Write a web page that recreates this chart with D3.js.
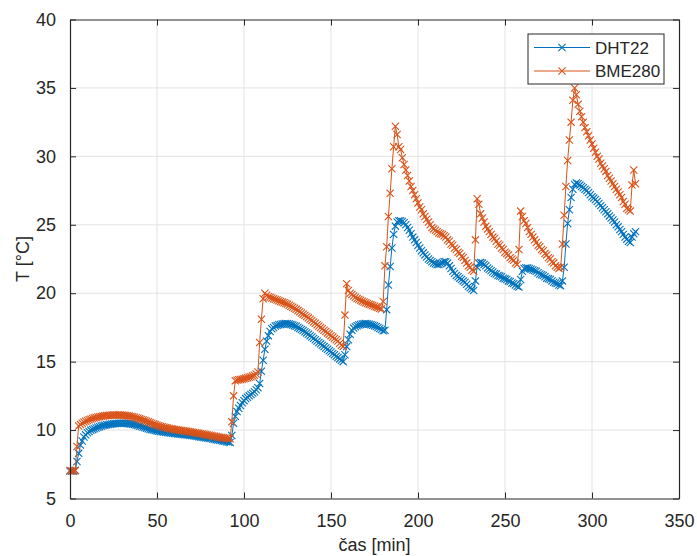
<!DOCTYPE html>
<html>
<head>
<meta charset="utf-8">
<script src="https://cdn.jsdelivr.net/npm/d3@7"></script>
<style>
  html, body { margin: 0; padding: 0; background: #ffffff; }
  svg { display: block; }
  text { font-family: "Liberation Sans", Arial, Helvetica, sans-serif; fill: #262626; }
</style>
</head>
<body>
<svg id="chart" width="697" height="556"></svg>
<script>
// ---- data (time in minutes = sample index, 1 sample per minute) ----
const seriesNames = ["DHT22", "BME280"];
const seriesColors = ["#0072BD", "#D95319"];

const dht22 = [
  7.0, 7.0, 7.0, 7.05, 7.7, 8.3, 8.9, 9.2, 9.5, 9.65,
  9.8, 9.9, 9.98, 10.05, 10.1, 10.15, 10.2, 10.25, 10.3, 10.33,
  10.36, 10.39, 10.41, 10.43, 10.45, 10.47, 10.48, 10.49, 10.5, 10.5,
  10.5, 10.5, 10.49, 10.48, 10.47, 10.45, 10.43, 10.4, 10.37, 10.33,
  10.3, 10.26, 10.22, 10.18, 10.14, 10.1, 10.06, 10.03, 10.0, 9.97,
  9.94, 9.92, 9.9, 9.88, 9.86, 9.84, 9.82, 9.8, 9.79, 9.77,
  9.75, 9.74, 9.72, 9.71, 9.69, 9.68, 9.66, 9.65, 9.63, 9.62,
  9.6, 9.58, 9.56, 9.54, 9.52, 9.5, 9.48, 9.46, 9.44, 9.42,
  9.4, 9.38, 9.35, 9.33, 9.3, 9.28, 9.25, 9.23, 9.2, 9.18,
  9.15, 9.13, 9.1, 9.6, 10.5, 11.0, 11.35, 11.6, 11.8, 12.0,
  12.15, 12.3, 12.4, 12.5, 12.6, 12.7, 12.8, 12.95, 13.1, 13.4,
  14.3, 15.1, 15.9, 16.5, 16.9, 17.2, 17.4, 17.5, 17.6, 17.65,
  17.7, 17.72, 17.75, 17.77, 17.78, 17.77, 17.75, 17.72, 17.68, 17.63,
  17.58, 17.5, 17.43, 17.35, 17.27, 17.18, 17.1, 17.0, 16.9, 16.8,
  16.7, 16.6, 16.5, 16.4, 16.3, 16.2, 16.1, 16.0, 15.9, 15.8,
  15.7, 15.6, 15.5, 15.4, 15.3, 15.2, 15.1, 15.0, 15.5, 16.1,
  16.6, 17.0, 17.3, 17.45, 17.55, 17.62, 17.68, 17.72, 17.75, 17.77,
  17.78, 17.76, 17.73, 17.7, 17.66, 17.62, 17.56, 17.5, 17.42, 17.34,
  17.25, 17.3, 18.8, 20.6, 21.95, 23.3, 24.3, 24.9, 25.2, 25.3,
  25.3, 25.25, 25.15, 25.0, 24.8, 24.6, 24.35, 24.1, 23.9, 23.7,
  23.5, 23.3, 23.1, 22.95, 22.8, 22.65, 22.5, 22.4, 22.3, 22.2,
  22.15, 22.1, 22.1, 22.15, 22.25, 22.3, 22.3, 22.2, 22.0, 21.8,
  21.6, 21.45, 21.3, 21.2, 21.1, 21.0, 20.9, 20.8, 20.65, 20.5,
  20.4, 20.3, 20.2, 20.9, 21.9, 22.2, 22.25, 22.2, 22.1, 22.0,
  21.85, 21.75, 21.65, 21.55, 21.45, 21.4, 21.3, 21.25, 21.2, 21.1,
  21.05, 21.0, 20.9, 20.85, 20.75, 20.7, 20.6, 20.5, 20.45, 21.0,
  21.6, 21.8, 21.85, 21.85, 21.8, 21.75, 21.7, 21.65, 21.6, 21.5,
  21.4, 21.35, 21.3, 21.2, 21.1, 21.05, 21.0, 20.9, 20.8, 20.75,
  20.7, 20.6, 20.55, 20.9, 21.9, 23.6, 25.1, 26.1, 27.0, 27.6,
  27.95, 28.05, 28.0, 27.9, 27.8, 27.7, 27.6, 27.5, 27.35, 27.2,
  27.05, 26.95, 26.85, 26.7, 26.55, 26.4, 26.25, 26.1, 25.95, 25.8,
  25.65, 25.5, 25.35, 25.2, 25.0, 24.85, 24.65, 24.5, 24.3, 24.1,
  23.95, 23.8, 23.7, 24.1, 24.35, 24.5
];

const bme280 = [
  7.05, 7.0, 7.0, 7.05, 8.8, 10.3, 10.4, 10.5, 10.58, 10.64,
  10.7, 10.75, 10.8, 10.84, 10.88, 10.92, 10.95, 10.98, 11.0, 11.02,
  11.04, 11.06, 11.07, 11.08, 11.09, 11.1, 11.1, 11.1, 11.1, 11.1,
  11.09, 11.08, 11.06, 11.04, 11.02, 11.0, 10.97, 10.94, 10.9, 10.86,
  10.82, 10.78, 10.74, 10.7, 10.65, 10.6, 10.55, 10.5, 10.45, 10.4,
  10.35, 10.31, 10.27, 10.24, 10.21, 10.18, 10.15, 10.12, 10.1, 10.07,
  10.05, 10.03, 10.01, 9.99, 9.97, 9.95, 9.93, 9.91, 9.89, 9.87,
  9.85, 9.83, 9.81, 9.79, 9.76, 9.74, 9.72, 9.69, 9.67, 9.64,
  9.62, 9.6, 9.57, 9.55, 9.53, 9.5, 9.48, 9.46, 9.44, 9.42,
  9.4, 9.38, 9.36, 10.6, 12.5, 13.6, 13.65, 13.68, 13.7, 13.72,
  13.75, 13.78, 13.82, 13.86, 13.9, 13.95, 14.0, 14.1, 14.25, 16.4,
  18.1, 19.6, 20.0, 19.85, 19.75, 19.7, 19.65, 19.6, 19.55, 19.5,
  19.45, 19.4, 19.35, 19.3, 19.25, 19.2, 19.12, 19.05, 18.98, 18.9,
  18.82, 18.73, 18.65, 18.56, 18.47, 18.38, 18.29, 18.2, 18.1, 18.0,
  17.9, 17.8, 17.7, 17.6, 17.5, 17.4, 17.3, 17.2, 17.1, 17.0,
  16.9, 16.8, 16.7, 16.6, 16.5, 16.35, 16.2, 16.1, 18.4, 20.7,
  20.2, 20.0, 19.9, 19.8, 19.7, 19.62, 19.55, 19.48, 19.42, 19.36,
  19.3, 19.25, 19.2, 19.15, 19.1, 19.05, 19.0, 18.95, 18.9, 18.85,
  19.4, 22.0, 23.4, 25.6, 27.3, 29.1, 30.7, 32.2, 31.6, 30.7,
  30.5, 29.9, 29.4, 29.0, 28.6, 28.2, 27.8, 27.5, 27.2, 26.9,
  26.6, 26.3, 26.1, 25.8, 25.6, 25.4, 25.2, 25.0, 24.8, 24.7,
  24.6, 24.5, 24.4, 24.35, 24.3, 24.2, 24.1, 23.9, 23.8, 23.6,
  23.5, 23.3, 23.2, 23.0, 22.9, 22.7, 22.6, 22.4, 22.2, 22.0,
  21.9, 21.7, 21.6, 23.9, 26.9, 26.5, 25.8, 25.5, 25.2, 24.9,
  24.7, 24.5, 24.3, 24.1, 24.0, 23.8, 23.6, 23.5, 23.3, 23.2,
  23.0, 22.9, 22.8, 22.6, 22.5, 22.4, 22.2, 22.1, 23.2, 26.0,
  25.6, 25.3, 25.1, 24.8, 24.5, 24.3, 24.1, 23.9, 23.7, 23.5,
  23.4, 23.2, 23.1, 22.9, 22.8, 22.6, 22.5, 22.3, 22.2, 22.0,
  21.9, 21.8, 21.9, 23.6, 25.7, 27.8, 29.7, 31.2, 32.5, 34.1,
  35.0, 34.5, 33.8, 33.3, 32.9, 32.5, 32.1, 31.8, 31.5, 31.2,
  30.9, 30.6, 30.3, 30.0, 29.8, 29.5, 29.3, 29.1, 28.9, 28.6,
  28.4, 28.2, 28.0, 27.8, 27.6, 27.4, 27.2, 27.0, 26.7, 26.5,
  26.2, 26.1, 26.0, 27.9, 29.0, 28.0
];

const xTicks = [0, 50, 100, 150, 200, 250, 300, 350];
const yTicks = [5, 10, 15, 20, 25, 30, 35, 40];
const xLabel = "čas [min]";
const yLabel = "T [°C]";

// ---- layout ----
const svg = d3.select("#chart");
const L = 70, R = 679, T = 19.5, B = 498.5;
const x = d3.scaleLinear().domain([0, 350]).range([L, R]);
const y = d3.scaleLinear().domain([5, 40]).range([B, T]);
const axisColor = "#262626";
const gridColor = "#e3e3e3";
const fontSize = 18;

// grid
const grid = svg.append("g");
grid.selectAll("line.gx").data(xTicks.slice(1, -1)).join("line")
  .attr("x1", d => x(d)).attr("x2", d => x(d)).attr("y1", T).attr("y2", B)
  .attr("stroke", gridColor).attr("stroke-width", 1);
grid.selectAll("line.gy").data(yTicks.slice(1, -1)).join("line")
  .attr("x1", L).attr("x2", R).attr("y1", d => y(d)).attr("y2", d => y(d))
  .attr("stroke", gridColor).attr("stroke-width", 1);

// data
const series = [dht22, bme280];
const line = d3.line().x((d, i) => x(i)).y(d => y(d));
const ms = 3.6;
series.forEach((vals, si) => {
  const g = svg.append("g");
  g.append("path").datum(vals).attr("d", line)
    .attr("fill", "none").attr("stroke", seriesColors[si]).attr("stroke-width", 1);
  g.selectAll("path.m").data(vals).join("path")
    .attr("class", "m")
    .attr("d", (d, i) => {
      const cx = x(i), cy = y(d);
      return `M${cx - ms},${cy - ms}L${cx + ms},${cy + ms}M${cx - ms},${cy + ms}L${cx + ms},${cy - ms}`;
    })
    .attr("stroke", seriesColors[si]).attr("stroke-width", 1.1).attr("fill", "none");
});

// axes via d3 axis generators (ticks inside)
const tickLen = 6;
const xAxis = d3.axisBottom(x).tickValues(xTicks).tickSizeInner(-tickLen).tickSizeOuter(0).tickPadding(tickLen + 10);
const xAxisTop = d3.axisTop(x).tickValues(xTicks).tickSizeInner(-tickLen).tickSizeOuter(0).tickFormat("");
const yAxis = d3.axisLeft(y).tickValues(yTicks).tickSizeInner(-tickLen).tickSizeOuter(0).tickPadding(tickLen + 8);
const yAxisRight = d3.axisRight(y).tickValues(yTicks).tickSizeInner(-tickLen).tickSizeOuter(0).tickFormat("");

function styleAxis(g) {
  g.select(".domain").attr("stroke", axisColor).attr("stroke-width", 1.2);
  g.selectAll(".tick line").attr("stroke", axisColor).attr("stroke-width", 1);
  g.selectAll(".tick text").attr("fill", axisColor).style("font-size", fontSize + "px")
    .style("font-family", '"Liberation Sans", Arial, sans-serif');
}
svg.append("g").attr("transform", `translate(0,${B})`).call(xAxis).call(styleAxis);
svg.append("g").attr("transform", `translate(0,${T})`).call(xAxisTop).call(styleAxis);
svg.append("g").attr("transform", `translate(${L},0)`).call(yAxis).call(styleAxis);
svg.append("g").attr("transform", `translate(${R},0)`).call(yAxisRight).call(styleAxis);

// axis labels
svg.append("text").attr("x", (L + R) / 2).attr("y", 551).attr("text-anchor", "middle")
  .style("font-size", fontSize + "px").text(xLabel);
svg.append("text").attr("transform", `translate(29,${(T + B) / 2}) rotate(-90)`)
  .attr("text-anchor", "middle").style("font-size", fontSize + "px").text(yLabel);

// legend
const lg = svg.append("g");
const lx = 528, ly = 34, lw = 136, lh = 50;
lg.append("rect").attr("x", lx).attr("y", ly).attr("width", lw).attr("height", lh)
  .attr("fill", "#ffffff").attr("stroke", axisColor).attr("stroke-width", 1);
seriesNames.forEach((name, i) => {
  const yy = ly + 13.5 + i * 23.5;
  lg.append("line").attr("x1", lx + 6).attr("x2", lx + 62).attr("y1", yy).attr("y2", yy)
    .attr("stroke", seriesColors[i]).attr("stroke-width", 1);
  const cx = lx + 34;
  lg.append("path").attr("d", `M${cx - ms},${yy - ms}L${cx + ms},${yy + ms}M${cx - ms},${yy + ms}L${cx + ms},${yy - ms}`)
    .attr("stroke", seriesColors[i]).attr("stroke-width", 1.1);
  lg.append("text").attr("x", lx + 67).attr("y", yy + 6).style("font-size", "17px").text(name);
});
</script>
</body>
</html>
